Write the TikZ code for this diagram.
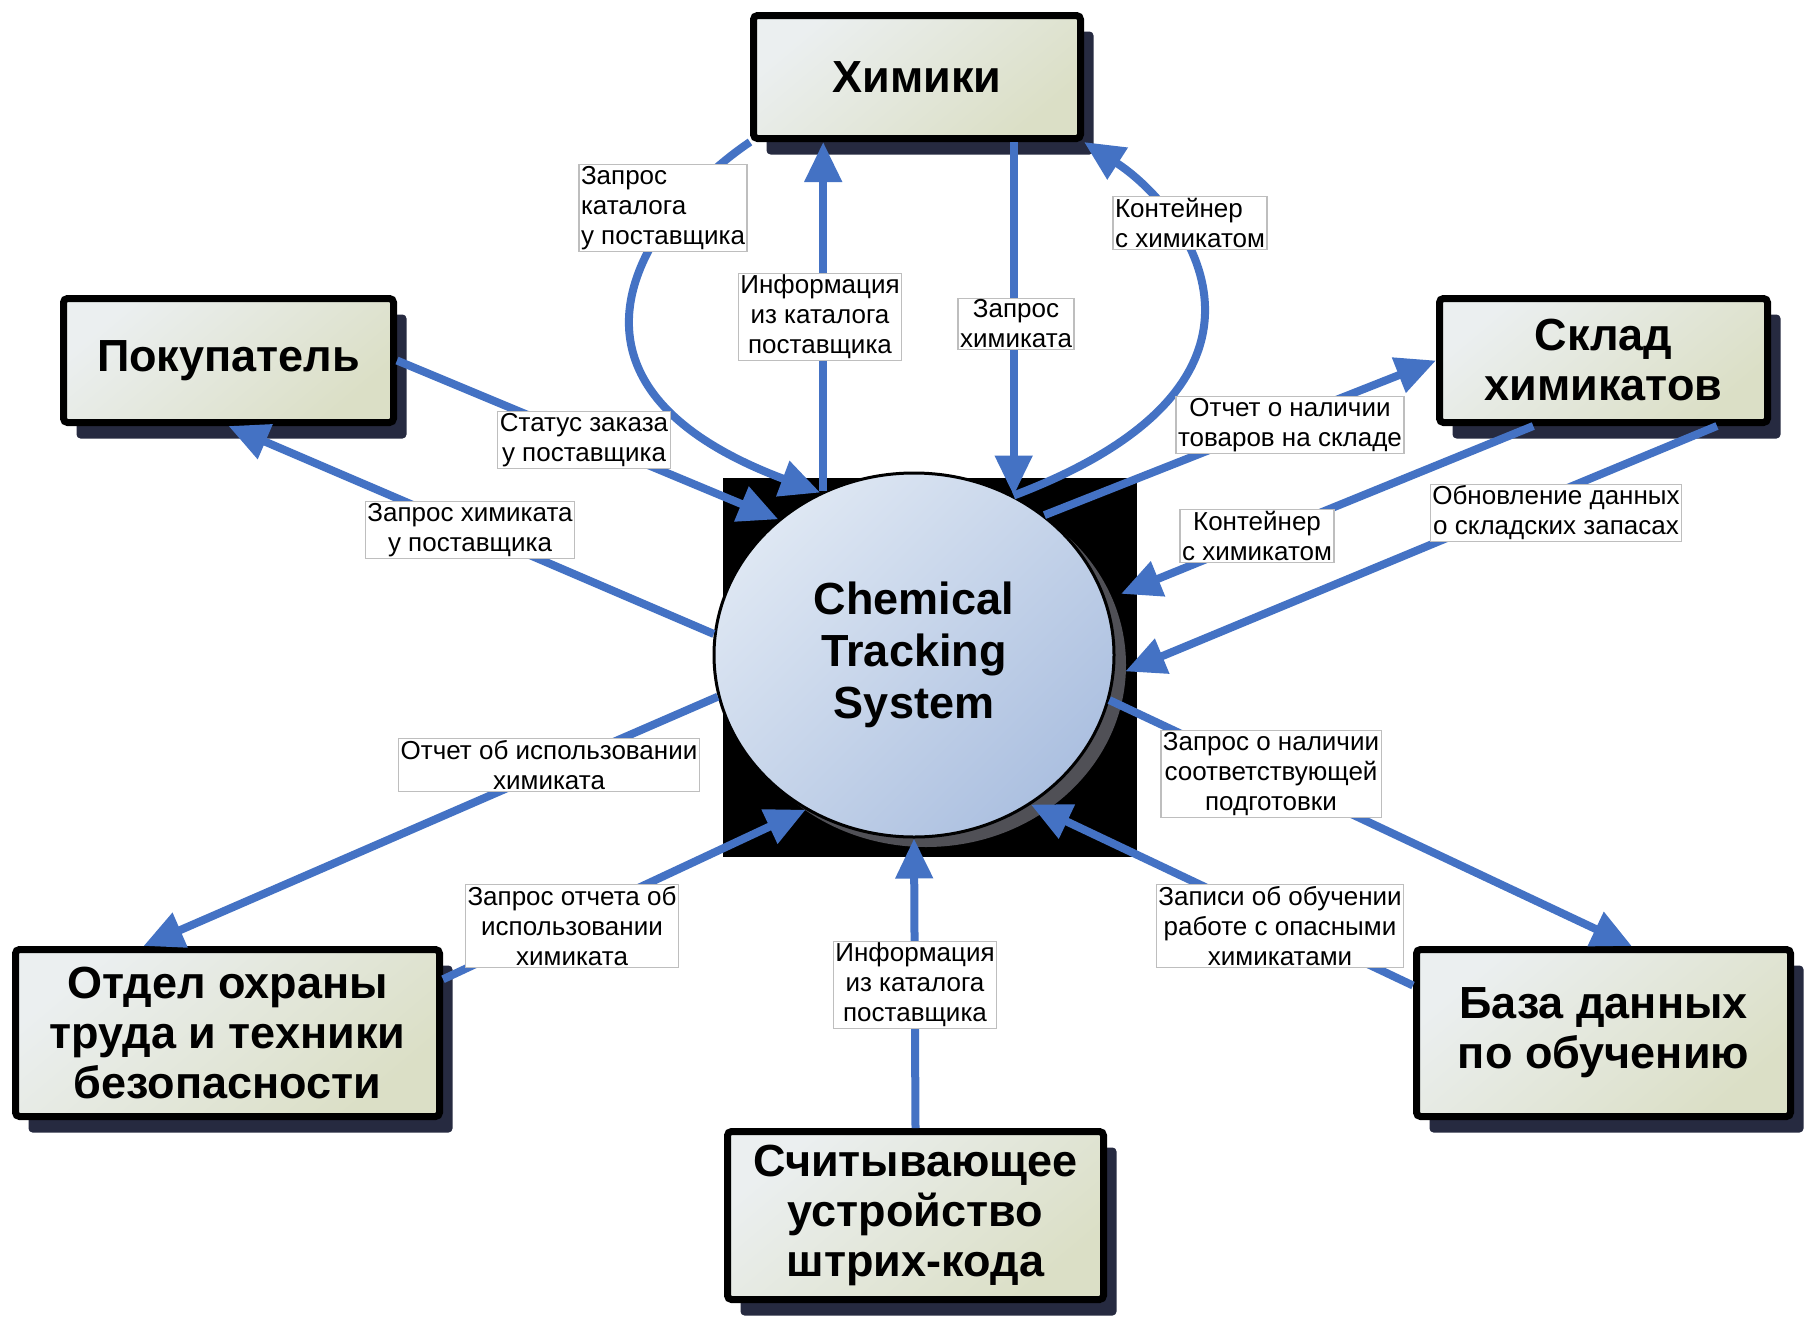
\documentclass[tikz,border=0pt]{standalone}
\usepackage{fontspec}
\setmainfont{Liberation Sans}
\usetikzlibrary{arrows.meta,shapes.geometric,shadows,calc}
\definecolor{arrowblue}{RGB}{68,114,196}
\definecolor{boxA}{RGB}{235,239,240}
\definecolor{boxB}{RGB}{219,223,198}
\definecolor{shadowc}{RGB}{38,42,64}
\definecolor{circA}{RGB}{222,231,243}
\definecolor{circB}{RGB}{172,192,224}
\definecolor{circshadow}{RGB}{80,80,86}
\definecolor{lblborder}{RGB}{190,190,190}
\begin{document}
\begin{tikzpicture}[x=1pt,y=-1pt,
  ent/.style={draw=black, line width=7pt, rounded corners=4pt,
    top color=boxA, bottom color=boxB, shading angle=40,
    drop shadow={shadow xshift=13pt, shadow yshift=-16pt, fill=shadowc, opacity=1},
    align=center, inner sep=0pt,
    font=\bfseries\fontsize{45}{50}\selectfont},
  arr/.style={draw=arrowblue, line width=8pt, -{Triangle[length=40pt,width=36pt]}},
  lbl/.style={draw=lblborder, line width=1.2pt, fill=white, inner xsep=2pt, inner ysep=1.5pt,
    align=center, font=\fontsize{26}{30}\selectfont}]
\useasboundingbox (0,0) rectangle (1814,1317);
\fill[white] (0,0) rectangle (1814,1317);

% centre
\node[fill=black, minimum width=414pt, minimum height=379pt, inner sep=0pt] (bg) at (930,667.5) {};
\node[ellipse, draw=black, line width=3pt, minimum width=400pt, minimum height=364pt, inner sep=0pt,
  top color=circA, bottom color=circB, shading angle=45,
  drop shadow={shadow xshift=12pt, shadow yshift=-10pt, fill=circshadow, opacity=1},
  align=center, font=\bfseries\fontsize{45}{52}\selectfont] (sys) at (914,655) {Chemical\\Tracking\\System};

% entities
\node[ent, minimum width=327pt, minimum height=123pt] (him) at (917,77) {Химики};
\node[ent, minimum width=330pt, minimum height=124pt] (pok) at (228.5,360.5) {Покупатель};
\node[ent, minimum width=328pt, minimum height=124pt] (sklad) at (1603.5,360.5) {Склад\\химикатов};
\node[ent, minimum width=424pt, minimum height=167pt] (otdel) at (227.5,1033) {Отдел охраны\\труда и техники\\безопасности};
\node[ent, minimum width=374pt, minimum height=167pt] (baza) at (1603.5,1033) {База данных\\по обучению};
\node[ent, minimum width=376pt, minimum height=168pt] (scan) at (915.5,1215.5) {Считывающее\\устройство\\штрих-кода};

% connectors
\draw[arr] (him.south west) .. controls (653,207) and (519,380) .. (sys.120);
\draw[arr] (sys.119) -- (sys.119 |- him.south);
\draw[arr] (sys.58 |- him.south) -- (sys.58);
\draw[arr] (sys.58) .. controls (1318,380) and (1185,207) .. (him.south east);
\draw[arr] (pok.east) -- (sys.135);
\draw[arr] (sys.174) -- (pok.south);
\draw[arr] (sys.47) -- (sklad.west);
\draw[arr, shorten >=16pt] (sklad.-137) -- (sys.16);
\draw[arr, shorten >=12pt] (sklad.-30) -- (sys.-6);
\draw[arr] (sys.192) -- (otdel.134);
\draw[arr] (otdel.14) -- (sys.-125);
\draw[arr] (scan.north) -- (sys.south);
\draw[arr] (baza.166) -- (sys.-52);
\draw[arr] (sys.-13) -- (baza.72);

% labels
\node[lbl, align=left] (l1) at (663,208) {Запрос\\каталога\\у поставщика};
\node[lbl] (l2) at (820,317) {Информация\\из каталога\\поставщика};
\node[lbl] (l3) at (1016,324) {Запрос\\химиката};
\node[lbl, align=left] (l4) at (1190,223) {Контейнер\\с химикатом};
\node[lbl] (l5) at (584,440) {Статус заказа\\у поставщика};
\node[lbl] (l6) at (470,530) {Запрос химиката\\у поставщика};
\node[lbl] (l7) at (1290,425) {Отчет о наличии\\товаров на складе};
\node[lbl] (l8) at (1257,536) {Контейнер\\с химикатом};
\node[lbl] (l9) at (1556,513) {Обновление данных\\о складских запасах};
\node[lbl] (l10) at (549,765) {Отчет об использовании\\химиката};
\node[lbl] (l11) at (1271,774) {Запрос о наличии\\соответствующей\\подготовки};
\node[lbl] (l12) at (572,926) {Запрос отчета об\\использовании\\химиката};
\node[lbl] (l13) at (915,985) {Информация\\из каталога\\поставщика};
\node[lbl] (l14) at (1280,926) {Записи об обучении\\работе с опасными\\химикатами};
\end{tikzpicture}
\end{document}
